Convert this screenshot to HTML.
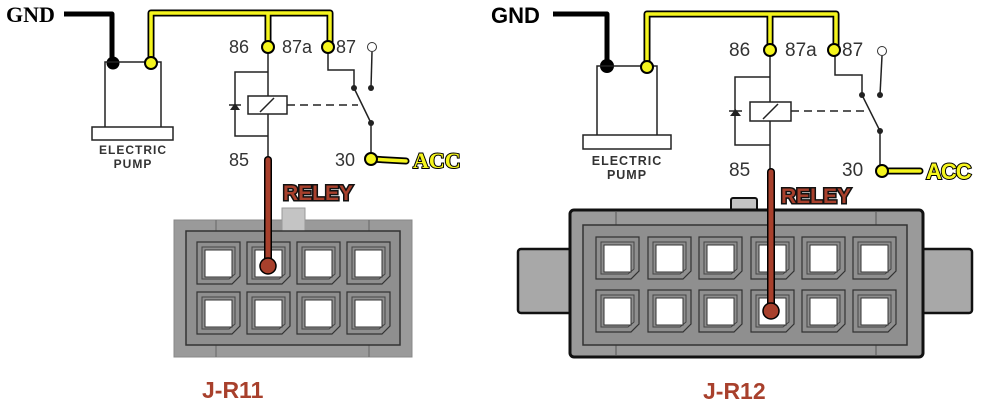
<!DOCTYPE html>
<html><head><meta charset="utf-8"><style>
html,body{margin:0;padding:0;background:#fff;}
svg{display:block}
text{font-family:"Liberation Sans",sans-serif}
text.serif{font-family:"Liberation Serif",serif}
</style></head><body>
<svg width="994" height="416" viewBox="0 0 994 416" xmlns="http://www.w3.org/2000/svg">
<defs>
<g id="cell"><path d="M0,0 H43 V34 L35,42 H0 Z" fill="#8f8f8f" stroke="#333" stroke-width="1.2"/><path d="M5,5 H38 V32 L32,37 H5 Z" fill="none" stroke="#444" stroke-width="1"/><rect x="8" y="8" width="27" height="27" fill="#fff" stroke="#333" stroke-width="1"/></g>
</defs>

<!-- ========== LEFT ========== -->
<text class="serif" x="6" y="22" font-weight="bold" font-size="22">GND</text>
<polyline points="64,14 112,14 112,62" fill="none" stroke="#000" stroke-width="5" stroke-linejoin="round"/>
<circle cx="113" cy="63" r="6.5" fill="#000"/>
<polyline points="151,64 151,13 330,13 330,47" fill="none" stroke="#000" stroke-width="7" stroke-linejoin="round"/>
<line x1="268" y1="13" x2="268" y2="47" stroke="#000" stroke-width="7"/>
<polyline points="151,64 151,13 330,13 330,47" fill="none" stroke="#f5f51e" stroke-width="3.5" stroke-linejoin="round"/>
<line x1="268" y1="13" x2="268" y2="47" stroke="#f5f51e" stroke-width="3.5"/>
<g fill="none" stroke="#222" stroke-width="1.5">
<polyline points="105,127 105,62 161,62 161,127"/>
<rect x="92" y="127" width="81" height="13"/>
</g>
<circle cx="151" cy="63" r="6" fill="#f5f51e" stroke="#000" stroke-width="2"/>
<text x="133" y="154" font-size="12" font-weight="bold" fill="#333" text-anchor="middle" letter-spacing="1">ELECTRIC</text>
<text x="133" y="168" font-size="12" font-weight="bold" fill="#333" text-anchor="middle" letter-spacing="1">PUMP</text>
<g fill="none" stroke="#222" stroke-width="1.5">
<line x1="268" y1="47" x2="268" y2="158"/>
<polyline points="268,72 235,72 235,136 268,136"/>
<rect x="248" y="96" width="39" height="18" fill="#fff"/>
<line x1="260" y1="112" x2="274" y2="98"/>
<line x1="287" y1="105" x2="358" y2="105" stroke-dasharray="8,5"/>
<polyline points="328,47 328,70 354,70 354,88"/>
<line x1="354" y1="88" x2="371" y2="123"/>
<line x1="371" y1="88" x2="372" y2="52"/>
<line x1="371" y1="123" x2="371" y2="158"/>
<line x1="229" y1="105" x2="241" y2="105"/>
</g>
<path d="M230,110 L240,110 L235,103 Z" fill="#222"/>
<circle cx="354" cy="88" r="3" fill="#222"/><circle cx="371" cy="88" r="3" fill="#222"/><circle cx="371" cy="123" r="3" fill="#222"/>
<circle cx="372" cy="47" r="4.5" fill="#fff" stroke="#333" stroke-width="1"/>
<circle cx="268" cy="47" r="6" fill="#f5f51e" stroke="#000" stroke-width="2"/>
<circle cx="328" cy="47" r="6" fill="#f5f51e" stroke="#000" stroke-width="2"/>
<g font-size="18" fill="#333"><text x="229" y="53">86</text><text x="282" y="53">87a</text><text x="336" y="53">87</text><text x="229" y="166">85</text><text x="335" y="166">30</text></g>
<line x1="371" y1="159" x2="406" y2="161" stroke="#000" stroke-width="7" stroke-linecap="round"/>
<line x1="371" y1="159" x2="406" y2="161" stroke="#f5f51e" stroke-width="3.5" stroke-linecap="round"/>
<circle cx="371" cy="159" r="6" fill="#f5f51e" stroke="#000" stroke-width="2"/>
<text class="serif" x="413" y="168" font-weight="bold" font-size="22" fill="#f5f51e" stroke="#000" stroke-width="2" paint-order="stroke">ACC</text>
<rect x="174" y="220" width="238" height="137" fill="#9a9a9a" stroke="#888" stroke-width="1"/>
<line x1="216" y1="220" x2="216" y2="231" stroke="#666"/><line x1="369" y1="220" x2="369" y2="231" stroke="#666"/>
<line x1="216" y1="345" x2="216" y2="357" stroke="#666"/><line x1="369" y1="345" x2="369" y2="357" stroke="#666"/>
<rect x="282" y="208" width="23" height="23" fill="#c4c4c4" stroke="#999"/>
<rect x="186" y="231" width="214" height="114" fill="#8f8f8f" stroke="#333" stroke-width="1.5"/>
<use href="#cell" x="197" y="242"/><use href="#cell" x="247" y="242"/><use href="#cell" x="297" y="242"/><use href="#cell" x="347" y="242"/>
<use href="#cell" x="197" y="292"/><use href="#cell" x="247" y="292"/><use href="#cell" x="297" y="292"/><use href="#cell" x="347" y="292"/>
<line x1="268" y1="160" x2="268" y2="266" stroke="#000" stroke-width="8" stroke-linecap="round"/>
<line x1="268" y1="160" x2="268" y2="266" stroke="#a8402c" stroke-width="5" stroke-linecap="round"/>
<circle cx="268" cy="266" r="8" fill="#a8402c" stroke="#000" stroke-width="1.5"/>
<text x="283" y="200" font-weight="bold" font-size="21" fill="#a8402c" stroke="#111" stroke-width="3" paint-order="stroke">RELEY</text>
<text x="202" y="398" font-weight="bold" font-size="23" fill="#a8402c">J-R11</text>

<!-- ========== RIGHT ========== -->
<text x="491" y="23" font-weight="bold" font-size="22">GND</text>
<polyline points="553,14 607,14 607,65" fill="none" stroke="#000" stroke-width="5" stroke-linejoin="round"/>
<circle cx="607" cy="66" r="7" fill="#000"/>
<polyline points="647,67 647,14 836,14 836,50" fill="none" stroke="#000" stroke-width="7" stroke-linejoin="round"/>
<line x1="770" y1="14" x2="770" y2="50" stroke="#000" stroke-width="7"/>
<polyline points="647,67 647,14 836,14 836,50" fill="none" stroke="#f5f51e" stroke-width="3.5" stroke-linejoin="round"/>
<line x1="770" y1="14" x2="770" y2="50" stroke="#f5f51e" stroke-width="3.5"/>
<g fill="none" stroke="#222" stroke-width="1.5">
<polyline points="597,135 597,66 657,66 657,135"/>
<rect x="583" y="135" width="88" height="14"/>
</g>
<circle cx="647" cy="67" r="6" fill="#f5f51e" stroke="#000" stroke-width="2"/>
<text x="627" y="165" font-size="12.5" font-weight="bold" fill="#333" text-anchor="middle" letter-spacing="1">ELECTRIC</text>
<text x="627" y="179" font-size="12.5" font-weight="bold" fill="#333" text-anchor="middle" letter-spacing="1">PUMP</text>
<g fill="none" stroke="#222" stroke-width="1.5">
<line x1="770" y1="50" x2="770" y2="170"/>
<polyline points="770,77 735,77 735,145 770,145"/>
<rect x="750" y="102" width="41" height="19" fill="#fff"/>
<line x1="763" y1="119" x2="778" y2="104"/>
<line x1="791" y1="111" x2="868" y2="111" stroke-dasharray="8,5"/>
<polyline points="835,50 835,75 862,75 862,95"/>
<line x1="862" y1="95" x2="880" y2="131"/>
<line x1="880" y1="95" x2="882" y2="56"/>
<line x1="880" y1="131" x2="880" y2="170"/>
<line x1="729" y1="111" x2="742" y2="111"/>
</g>
<path d="M730,116 L741,116 L735.5,109 Z" fill="#222"/>
<circle cx="862" cy="95" r="3" fill="#222"/><circle cx="880" cy="95" r="3" fill="#222"/><circle cx="880" cy="131" r="3" fill="#222"/>
<circle cx="882" cy="51" r="4.5" fill="#fff" stroke="#333" stroke-width="1"/>
<circle cx="770" cy="50" r="6" fill="#f5f51e" stroke="#000" stroke-width="2"/>
<circle cx="834" cy="50" r="6" fill="#f5f51e" stroke="#000" stroke-width="2"/>
<g font-size="19" fill="#333"><text x="729" y="56">86</text><text x="785" y="56">87a</text><text x="842" y="56">87</text><text x="729" y="176">85</text><text x="842" y="176">30</text></g>
<line x1="882" y1="171" x2="920" y2="171" stroke="#000" stroke-width="7" stroke-linecap="round"/>
<line x1="882" y1="171" x2="920" y2="171" stroke="#f5f51e" stroke-width="3.5" stroke-linecap="round"/>
<circle cx="882" cy="171" r="6" fill="#f5f51e" stroke="#000" stroke-width="2"/>
<text x="926" y="179" font-weight="bold" font-size="22" fill="#f5f51e" stroke="#000" stroke-width="2" paint-order="stroke" letter-spacing="-1">ACC</text>
<rect x="518" y="249" width="66" height="64" rx="3" fill="#a8a8a8" stroke="#111" stroke-width="2.5"/>
<rect x="906" y="249" width="66" height="64" rx="3" fill="#a8a8a8" stroke="#111" stroke-width="2.5"/>
<rect x="731" y="198" width="26" height="28" rx="2" fill="#c4c4c4" stroke="#111" stroke-width="2"/>
<rect x="570" y="210" width="353" height="147" rx="4" fill="#9a9a9a" stroke="#111" stroke-width="3"/>
<line x1="616" y1="212" x2="616" y2="225" stroke="#555"/><line x1="876" y1="212" x2="876" y2="225" stroke="#555"/>
<line x1="616" y1="345" x2="616" y2="356" stroke="#555"/><line x1="876" y1="345" x2="876" y2="356" stroke="#555"/>
<rect x="583" y="225" width="324" height="120" fill="#8f8f8f" stroke="#333" stroke-width="1.5"/>
<use href="#cell" x="596" y="237"/><use href="#cell" x="648" y="237"/><use href="#cell" x="699" y="237"/><use href="#cell" x="751" y="237"/><use href="#cell" x="802" y="237"/><use href="#cell" x="853" y="237"/>
<use href="#cell" x="596" y="290"/><use href="#cell" x="648" y="290"/><use href="#cell" x="699" y="290"/><use href="#cell" x="751" y="290"/><use href="#cell" x="802" y="290"/><use href="#cell" x="853" y="290"/>
<line x1="771" y1="172" x2="771" y2="311" stroke="#000" stroke-width="8" stroke-linecap="round"/>
<line x1="771" y1="172" x2="771" y2="311" stroke="#a8402c" stroke-width="5" stroke-linecap="round"/>
<circle cx="771" cy="311" r="8" fill="#a8402c" stroke="#000" stroke-width="1.5"/>
<text x="781" y="203" font-weight="bold" font-size="21" fill="#a8402c" stroke="#111" stroke-width="3" paint-order="stroke">RELEY</text>
<text x="703" y="399" font-weight="bold" font-size="23" fill="#a8402c">J-R12</text>
</svg>
</body></html>
